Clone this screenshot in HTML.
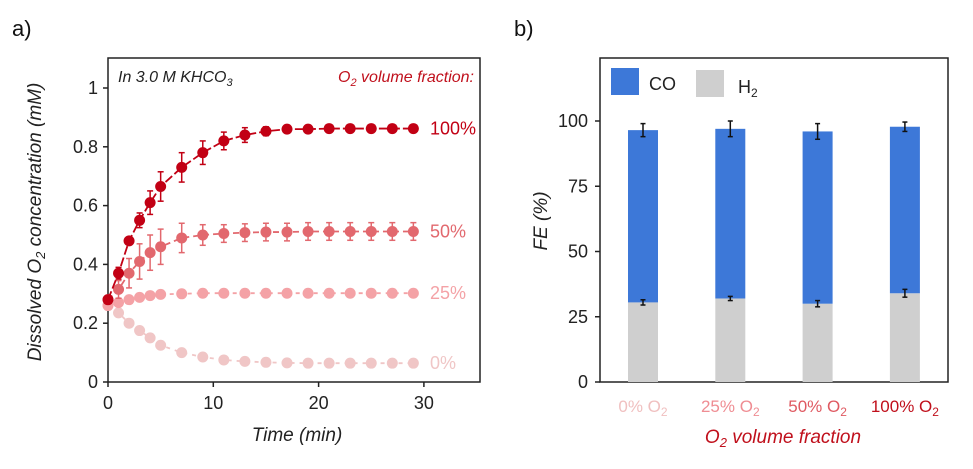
<!DOCTYPE html>
<html><head><meta charset="utf-8"><style>
body{margin:0;background:#fff;}
svg{display:block;font-family:"Liberation Sans",Arial,sans-serif;}
</style></head><body>
<svg id="s" width="973" height="469" viewBox="0 0 973 469">
<text x="12" y="36" font-size="22" fill="#111">a)</text>
<text x="514" y="36" font-size="22" fill="#111">b)</text>
<g id="ga"></g>
<g id="gb"></g>
</svg>
<script>
const times=[0,1,2,3,4,5,7,9,11,13,15,17,19,21,23,25,27,29];
const s100=[0.28,0.37,0.48,0.55,0.61,0.665,0.73,0.78,0.82,0.84,0.853,0.86,0.86,0.862,0.862,0.862,0.862,0.862];
const e100=[0.01,0.02,0.01,0.025,0.04,0.05,0.05,0.04,0.03,0.025,0.015,0.01,0.01,0.01,0.01,0.01,0.01,0.01];
const s50=[0.28,0.315,0.37,0.41,0.44,0.46,0.49,0.5,0.505,0.508,0.51,0.51,0.512,0.512,0.512,0.512,0.512,0.512];
const e50=[0.01,0.03,0.05,0.06,0.06,0.06,0.05,0.035,0.03,0.03,0.03,0.03,0.03,0.03,0.03,0.03,0.03,0.03];
const s25=[0.26,0.27,0.28,0.288,0.294,0.298,0.3,0.302,0.302,0.302,0.302,0.302,0.302,0.302,0.302,0.302,0.302,0.302];
const s0=[0.26,0.235,0.2,0.175,0.15,0.125,0.1,0.085,0.075,0.07,0.067,0.065,0.064,0.064,0.064,0.064,0.064,0.064];
const yTicksA=[0,0.2,0.4,0.6,0.8,1];
const xTicksA=[0,10,20,30];
const cats=["0% O","25% O","50% O","100% O"];
const h2=[30.5,32,30,34];
const h2err=[1,0.8,1.2,1.5];
const total=[96.5,97,96,97.8];
const totErr=[2.5,3,3,1.8];
const yTicksB=[0,25,50,75,100];
const NS="http://www.w3.org/2000/svg";
function mk(p,t,a,txt){const e=document.createElementNS(NS,t);for(const k in a)e.setAttribute(k,a[k]);if(txt!==undefined)e.textContent=txt;p.appendChild(e);return e;}
// Panel A
const ga=document.getElementById('ga');
const xA=v=>108+v*10.53, yA=v=>382-v*294;
mk(ga,'rect',{x:108,y:58,width:372,height:324,fill:'none',stroke:'#222','stroke-width':1.5});
yTicksA.forEach(v=>{mk(ga,'line',{x1:103,x2:108,y1:yA(v),y2:yA(v),stroke:'#222','stroke-width':1.5});
const t=mk(ga,'text',{x:98,y:yA(v)+6,'font-size':18,'text-anchor':'end',fill:'#222'},String(v));
});
xTicksA.forEach(v=>{mk(ga,'line',{x1:xA(v),x2:xA(v),y1:382,y2:387,stroke:'#222','stroke-width':1.5});
const t=mk(ga,'text',{x:xA(v),y:409,'font-size':18,'text-anchor':'middle',fill:'#222'},String(v));
});
let t=mk(ga,'text',{x:297,y:441,'font-size':19,'font-style':'italic','text-anchor':'middle',fill:'#222'},'Time (min)');

t=mk(ga,'text',{transform:'translate(41,222) rotate(-90)','font-size':19,'font-style':'italic','text-anchor':'middle',fill:'#222'});

t.innerHTML='Dissolved O<tspan font-size="13" dy="4">2</tspan><tspan dy="-4"> concentration (mM)</tspan>';
t=mk(ga,'text',{x:118,y:82,'font-size':16,'font-style':'italic',fill:'#222'});

t.innerHTML='In 3.0 M KHCO<tspan font-size="11" dy="4">3</tspan>';
t=mk(ga,'text',{x:474,y:82,'font-size':16,'font-style':'italic','text-anchor':'end',fill:'#c0101c'});

t.innerHTML='O<tspan font-size="11" dy="4">2</tspan><tspan dy="-4"> volume fraction:</tspan>';
const series=[[s0,null,'#f0c6c6','0%','4 5'],[s25,null,'#f4a2a6','25%','4 5'],[s50,e50,'#e2686e','50%','6 4'],[s100,e100,'#c20014','100%','9 3']];
series.forEach(([d,e,c,lab,dash])=>{
const g=mk(ga,'g',{});
mk(g,'polyline',{points:times.map((x,i)=>xA(x)+','+yA(d[i])).join(' '),fill:'none',stroke:c,'stroke-width':1.8,'stroke-dasharray':dash});
times.forEach((x,i)=>{
if(e){const y1=yA(d[i]+e[i]),y2=yA(d[i]-e[i]);
mk(g,'line',{x1:xA(x),x2:xA(x),y1:y1,y2:y2,stroke:c,'stroke-width':1.5});
mk(g,'line',{x1:xA(x)-3,x2:xA(x)+3,y1:y1,y2:y1,stroke:c,'stroke-width':1.5});
mk(g,'line',{x1:xA(x)-3,x2:xA(x)+3,y1:y2,y2:y2,stroke:c,'stroke-width':1.5});}
const p=mk(g,'circle',{cx:xA(x),cy:yA(d[i]),r:5.5,fill:c});
});
const l=mk(g,'text',{x:430,y:yA(d[d.length-1])+6,'font-size':18,fill:c},lab);

});
// Panel B
const gb=document.getElementById('gb');
const yB=v=>382-v*2.61;
const xB=i=>643+i*87.3;
mk(gb,'rect',{x:600,y:58,width:348,height:324,fill:'none',stroke:'#222','stroke-width':1.5});
yTicksB.forEach(v=>{mk(gb,'line',{x1:595,x2:600,y1:yB(v),y2:yB(v),stroke:'#222','stroke-width':1.5});
const t=mk(gb,'text',{x:588,y:yB(v)+6,'font-size':18,'text-anchor':'end',fill:'#222'},String(v));
});
const catCol=['#f0c0c0','#ef8d93','#df5a62','#c0101c'];
cats.forEach((c,i)=>{
const x=xB(i),w=30;
let r=mk(gb,'rect',{x:x-w/2,y:yB(h2[i]),width:w,height:yB(0)-yB(h2[i]),fill:'#cfcfcf'});

r=mk(gb,'rect',{x:x-w/2,y:yB(total[i]),width:w,height:yB(h2[i])-yB(total[i]),fill:'#3d78d8'});

[[total[i],totErr[i]],[h2[i],h2err[i]]].forEach(([v,e])=>{
const y1=yB(v+e),y2=yB(v-e);
mk(gb,'line',{x1:x,x2:x,y1:y1,y2:y2,stroke:'#111','stroke-width':1.5});
mk(gb,'line',{x1:x-2.5,x2:x+2.5,y1:y1,y2:y1,stroke:'#111','stroke-width':1.5});
mk(gb,'line',{x1:x-2.5,x2:x+2.5,y1:y2,y2:y2,stroke:'#111','stroke-width':1.5});});
const t=mk(gb,'text',{x:x,y:412,'font-size':17,'text-anchor':'middle',fill:catCol[i]});

t.innerHTML=c+'<tspan font-size="12" dy="4">2</tspan>';
});
t=mk(gb,'text',{x:783,y:443,'font-size':19,'font-style':'italic','text-anchor':'middle',fill:'#c0101c'});

t.innerHTML='O<tspan font-size="13" dy="4">2</tspan><tspan dy="-4"> volume fraction</tspan>';
t=mk(gb,'text',{transform:'translate(547,221) rotate(-90)','font-size':19,'font-style':'italic','text-anchor':'middle',fill:'#222'},'FE (%)');

let r=mk(gb,'rect',{x:611,y:68,width:28,height:27,fill:'#3d78d8'});
t=mk(gb,'text',{x:649,y:90,'font-size':18,fill:'#222'},'CO');
r=mk(gb,'rect',{x:696,y:70,width:28,height:27,fill:'#cfcfcf'});
t=mk(gb,'text',{x:738,y:93,'font-size':18,fill:'#222'});
t.innerHTML='H<tspan font-size="12" dy="4">2</tspan>';
</script>
</body></html>
